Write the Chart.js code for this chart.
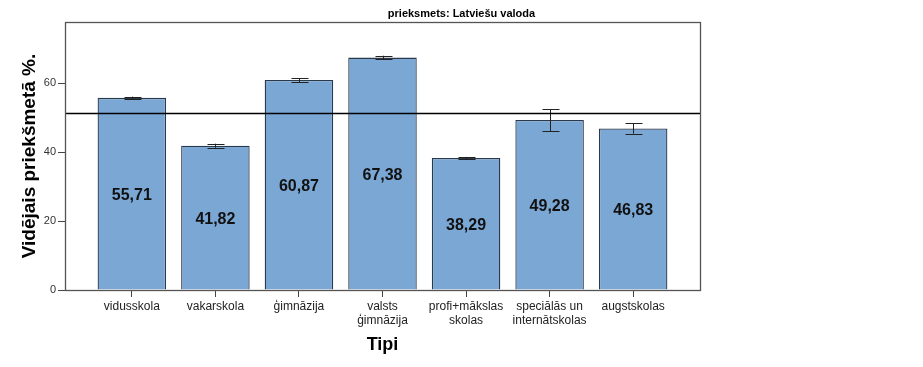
<!DOCTYPE html>
<html>
<head>
<meta charset="utf-8">
<script src="https://cdn.jsdelivr.net/npm/chart.js@4.4.1/dist/chart.umd.min.js"></script>
<style>
  html, body { margin: 0; padding: 0; background: #fff; }
  #wrap { width: 923px; height: 367px; position: relative; }
</style>
</head>
<body>
<div id="wrap"><canvas id="chart" width="923" height="367"></canvas></div>
<script>
// dati no attēla
var categories = ['vidusskola', 'vakarskola', 'ģimnāzija', ['valsts', 'ģimnāzija'], ['profi+mākslas', 'skolas'], ['speciālās un', 'internātskolas'], 'augstskolas'];
var means = [55.71, 41.82, 60.87, 67.38, 38.29, 49.28, 46.83];
var errors = [0.35, 0.6, 0.6, 0.55, 0.3, 3.2, 1.5];
var valueLabels = ['55,71', '41,82', '60,87', '67,38', '38,29', '49,28', '46,83'];
var yTicks = [0, 20, 40, 60];
var referenceValue = 51.4;
var chartTitle = 'prieksmets: Latviešu valoda';

var FONT = "'Liberation Sans', Arial, sans-serif";

// kļūdu joslas, vidējā līnija, uzraksti
var extras = {
    id: 'extras',
    afterDatasetsDraw: function(chart) {
        var ctx = chart.ctx;
        var area = chart.chartArea;
        var y = chart.scales.y;
        var meta = chart.getDatasetMeta(0);

        ctx.save();
        // vērtības stabiņos
        ctx.fillStyle = '#111';
        ctx.font = 'bold 16px ' + FONT;
        ctx.textAlign = 'center';
        ctx.textBaseline = 'middle';
        meta.data.forEach(function(bar, i) {
            ctx.fillText(valueLabels[i], bar.x, (bar.y + bar.base) / 2 + 2);
        });

        // kļūdu joslas
        ctx.strokeStyle = '#222';
        ctx.lineWidth = 1;
        meta.data.forEach(function(bar, i) {
            var top = y.getPixelForValue(means[i] + errors[i]);
            var bot = y.getPixelForValue(means[i] - errors[i]);
            var cx = Math.round(bar.x) + 0.5;
            ctx.beginPath();
            ctx.moveTo(cx, top); ctx.lineTo(cx, bot);
            ctx.moveTo(cx - 8, Math.round(top) + 0.5); ctx.lineTo(cx + 9, Math.round(top) + 0.5);
            ctx.moveTo(cx - 8, Math.round(bot) + 0.5); ctx.lineTo(cx + 9, Math.round(bot) + 0.5);
            ctx.stroke();
        });

        // vidējā līnija
        var ry = Math.round(y.getPixelForValue(referenceValue)) + 0.5;
        ctx.strokeStyle = '#000';
        ctx.lineWidth = 1.3;
        ctx.beginPath();
        ctx.moveTo(area.left, ry); ctx.lineTo(area.right, ry);
        ctx.stroke();

        // rāmis
        ctx.strokeStyle = '#555';
        ctx.lineWidth = 1.3;
        ctx.strokeRect(area.left + 0.5, area.top + 0.5, area.right - area.left, area.bottom - area.top);

        // virsraksts
        ctx.fillStyle = '#000';
        ctx.font = 'bold 11px ' + FONT;
        ctx.textAlign = 'center';
        ctx.textBaseline = 'middle';
        ctx.fillText(chartTitle, chart.width / 2, 14);
        ctx.restore();
    }
};

new Chart(document.getElementById('chart').getContext('2d'), {
    type: 'bar',
    data: {
        datasets: [{
            data: means.map(function(m, i) { return { x: i, y: m }; }),
            backgroundColor: '#7ba7d5',
            borderColor: '#2b3a4a',
            borderWidth: 1.3,
            barPercentage: 0.82,
            categoryPercentage: 1
        }]
    },
    options: {
        responsive: false,
        animation: false,
        layout: { padding: { top: 22, right: 223, left: 0, bottom: 0 } },
        plugins: {
            legend: { display: false },
            title: { display: false },
            tooltip: { enabled: false }
        },
        scales: {
            x: {
                type: 'linear',
                offset: false,
                min: -0.8,
                max: categories.length - 1 + 0.8,
                afterFit: function(s) { s.height = 77; },
                afterBuildTicks: function(s) { s.ticks = categories.map(function(c, i) { return { value: i }; }); },
                grid: { offset: false, drawOnChartArea: false, drawTicks: true, tickLength: 7, color: '#444' },
                border: { display: true, color: '#555' },
                ticks: {
                    color: '#222', font: { family: FONT, size: 12 }, padding: 2, maxRotation: 0, autoSkip: false,
                    callback: function(v) { return categories[v]; }
                },
                title: {
                    display: true,
                    text: 'Tipi',
                    color: '#000',
                    font: { family: FONT, size: 18, weight: 'bold' },
                    padding: { top: 0, bottom: 11 }
                }
            },
            y: {
                min: 0,
                max: 77.7,
                afterFit: function(s) { s.width = 65; },
                afterBuildTicks: function(s) { s.ticks = yTicks.map(function(v) { return { value: v }; }); },
                grid: { drawOnChartArea: false, drawTicks: true, tickLength: 7, color: '#444' },
                border: { display: true, color: '#555' },
                ticks: { color: '#333', font: { family: FONT, size: 11 }, padding: 2 },
                title: {
                    display: true,
                    text: 'Vidējais priekšmetā %.',
                    color: '#000',
                    font: { family: FONT, size: 19, weight: 'bold' },
                    padding: { top: 18, bottom: 0 }
                }
            }
        }
    },
    plugins: [extras]
});
</script>
</body>
</html>
